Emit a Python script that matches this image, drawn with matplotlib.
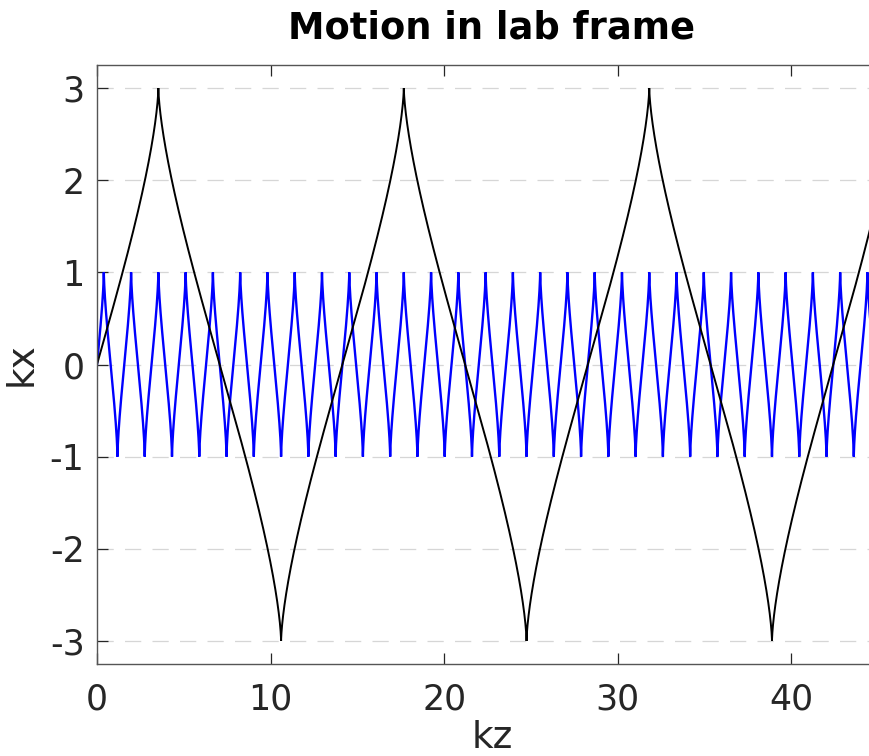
import numpy as np
from matplotlib import pyplot as plt

# normalised field amplitude a0 of each run (= peak |kx| of the orbit)
a0_values = [1.0, 3.0]
line_colors = ['blue', 'black']
line_widths = [1.7, 1.4]

y_ticks = [-3, -2, -1, 0, 1, 2, 3]
x_ticks = [0, 10, 20, 30, 40]
kz_max = 45.5


def lab_orbit(a0, kz_stop):
    # figure-eight orbit seen from the lab: transverse wiggle plus drift along z
    n_cycles = int(np.ceil(kz_stop / (a0 ** 2 * np.pi / 2))) + 1
    phi = np.linspace(0, 2 * np.pi * n_cycles, 4000 * n_cycles)
    kx = a0 * np.sin(phi)
    kz = a0 ** 2 / 4 * (phi + np.sin(phi) * np.cos(phi))
    return kz, kx


plt.rcParams['font.family'] = ['DejaVu Sans']
axis_col = '#262626'

fig = plt.figure(figsize=(8.7, 7.56), dpi=100)
ax = fig.add_axes([0.1115, 0.1217, 0.908, 0.7923])

for a0, col, lw in zip(a0_values, line_colors, line_widths):
    kz, kx = lab_orbit(a0, kz_max)
    ax.plot(kz, kx, color=col, lw=lw, solid_joinstyle='miter')

ax.set_xlim(0, kz_max)
ax.set_ylim(-3.25, 3.25)
ax.set_xticks(x_ticks)
ax.set_yticks(y_ticks)
ax.set_yticklabels([str(t) for t in y_ticks])

ax.yaxis.grid(True, color='#d6d6d6', lw=0.9, linestyle=(0, (13, 9)))
ax.xaxis.grid(False)
ax.set_axisbelow(True)

for s in ax.spines.values():
    s.set_color('#555555')
    s.set_linewidth(1.0)

ax.tick_params(direction='in', length=8, width=0.9, color=axis_col,
               labelsize=25, labelcolor=axis_col, top=True, right=True)
ax.tick_params(axis='x', pad=13)
ax.tick_params(axis='y', pad=9)

ax.set_xlabel('kz', fontsize=27, color=axis_col, labelpad=3)
ax.set_ylabel('kx', fontsize=27, color=axis_col, labelpad=7)
ax.set_title('Motion in lab frame', fontsize=26.5, fontweight='bold', pad=19)

fig.savefig('out.png', dpi=100)
plt.close(fig)
